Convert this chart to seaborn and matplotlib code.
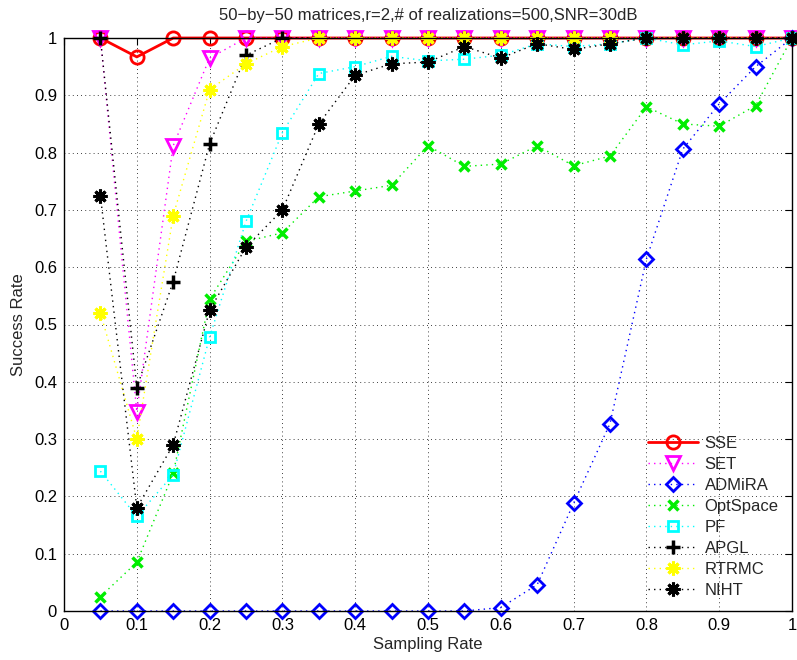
import matplotlib
matplotlib.use("Agg")
import matplotlib.pyplot as plt
import seaborn as sns
import pandas as pd

sampling_rate = [0.05, 0.10, 0.15, 0.20, 0.25, 0.30, 0.35, 0.40, 0.45, 0.50,
                 0.55, 0.60, 0.65, 0.70, 0.75, 0.80, 0.85, 0.90, 0.95, 1.00]

sse = [1.0, 0.967, 1.0, 1.0, 1.0, 1.0, 1.0, 1.0, 1.0, 1.0,
       1.0, 1.0, 1.0, 1.0, 1.0, 1.0, 1.0, 1.0, 1.0, 1.0]
set_ = [1.0, 0.348, 0.812, 0.965, 1.0, 1.0, 1.0, 1.0, 1.0, 1.0,
        1.0, 1.0, 1.0, 1.0, 1.0, 1.0, 1.0, 1.0, 1.0, 1.0]
admira = [0.0, 0.0, 0.0, 0.0, 0.0, 0.0, 0.0, 0.0, 0.0, 0.0,
          0.0, 0.006, 0.046, 0.188, 0.327, 0.614, 0.806, 0.885, 0.950, 1.0]
optspace = [0.025, 0.085, 0.240, 0.544, 0.645, 0.660, 0.723, 0.733, 0.743, 0.812,
            0.776, 0.780, 0.812, 0.777, 0.794, 0.880, 0.850, 0.846, 0.882, 1.0]
pf = [0.244, 0.165, 0.238, 0.478, 0.680, 0.835, 0.938, 0.950, 0.968, 0.960,
      0.963, 0.970, 0.990, 0.985, 0.990, 1.0, 0.988, 0.995, 0.985, 1.0]
apgl = [1.0, 0.390, 0.575, 0.815, 0.970, 1.0, 1.0, 1.0, 1.0, 1.0,
        1.0, 1.0, 1.0, 1.0, 1.0, 1.0, 1.0, 1.0, 1.0, 1.0]
rtrmc = [0.520, 0.300, 0.690, 0.910, 0.955, 0.985, 1.0, 1.0, 1.0, 1.0,
         1.0, 1.0, 1.0, 1.0, 1.0, 1.0, 1.0, 1.0, 1.0, 1.0]
niht = [0.725, 0.180, 0.290, 0.525, 0.635, 0.700, 0.850, 0.935, 0.955, 0.958,
        0.985, 0.965, 0.990, 0.980, 0.990, 1.0, 1.0, 1.0, 1.0, 1.0]

methods = ["SSE", "SET", "ADMiRA", "OptSpace", "PF", "APGL", "RTRMC", "NIHT"]
values = [sse, set_, admira, optspace, pf, apgl, rtrmc, niht]

x_ticks = [0, 0.1, 0.2, 0.3, 0.4, 0.5, 0.6, 0.7, 0.8, 0.9, 1]
tick_labels = ["0", "0.1", "0.2", "0.3", "0.4", "0.5", "0.6", "0.7", "0.8", "0.9", "1"]

df = pd.DataFrame({
    "Sampling Rate": sampling_rate * len(methods),
    "Success Rate": [v for series in values for v in series],
    "Method": [m for m in methods for _ in sampling_rate],
})

sns.set_style("white")
plt.rcParams["font.family"] = ["Liberation Sans", "DejaVu Sans"]

asterisk = (8, 2, 0)
dots = (0, (1, 3))
styles = {
    "SSE":      dict(color="#ff0000", ls="-",  lw=2.0, marker="o", ms=9.5, mew=2.0),
    "SET":      dict(color="#ff00ff", ls=dots, lw=1.0, marker="v", ms=9.5, mew=2.0),
    "ADMiRA":   dict(color="#0000ff", ls=dots, lw=1.0, marker="D", ms=7.5, mew=2.0),
    "OptSpace": dict(color="#00ee00", ls=dots, lw=1.0, marker="x", ms=7, mew=2.5),
    "PF":       dict(color="#00ffff", ls=dots, lw=1.0, marker="s", ms=7.5, mew=2.0),
    "APGL":     dict(color="#000000", ls=dots, lw=1.0, marker="+", ms=10, mew=2.5),
    "RTRMC":    dict(color="#ffff00", ls=dots, lw=1.0, marker=asterisk, ms=10, mew=2.2),
    "NIHT":     dict(color="#000000", ls=dots, lw=1.0, marker=asterisk, ms=10, mew=2.2),
}

fig = plt.figure(figsize=(7.97, 6.60), dpi=100)
ax = fig.add_axes([64 / 797, 1 - 611 / 660, (792 - 64) / 797, (611 - 38) / 660])

for m in methods:
    st = styles[m]
    sub = df[df["Method"] == m]
    sns.lineplot(data=sub, x="Sampling Rate", y="Success Rate", ax=ax,
                 color=st["color"], linestyle=st["ls"], linewidth=st["lw"],
                 marker=st["marker"], markersize=st["ms"],
                 markerfacecolor="none", markeredgecolor=st["color"],
                 markeredgewidth=st["mew"], label=m, clip_on=False,
                 estimator=None, sort=False)

ax.set_xlim(0, 1)
ax.set_ylim(0, 1)
ax.set_xticks(x_ticks)
ax.set_xticklabels(tick_labels)
ax.set_yticks(x_ticks)
ax.set_yticklabels(tick_labels)
ax.tick_params(direction="in", length=5, width=0.8, top=True, right=True,
               labelsize=12, colors="black", pad=5)
ax.grid(True, color="black", linestyle=(0, (1, 4)), linewidth=0.6)
for sp in ax.spines.values():
    sp.set_color("black")
    sp.set_linewidth(1.0)

ax.set_xlabel("Sampling Rate", fontsize=12, labelpad=3)
ax.set_ylabel("Success Rate", fontsize=12, labelpad=6)
ax.set_title("50\u2212by\u221250 matrices,r=2,# of realizations=500,SNR=30dB",
             fontsize=12, pad=13)

leg = ax.legend(loc="lower right", frameon=False, fontsize=12,
                handlelength=3.0, labelspacing=0.36, borderaxespad=0.4,
                handletextpad=0.4, bbox_to_anchor=(1.0, 0.0))

fig.savefig("out.png", dpi=100)
